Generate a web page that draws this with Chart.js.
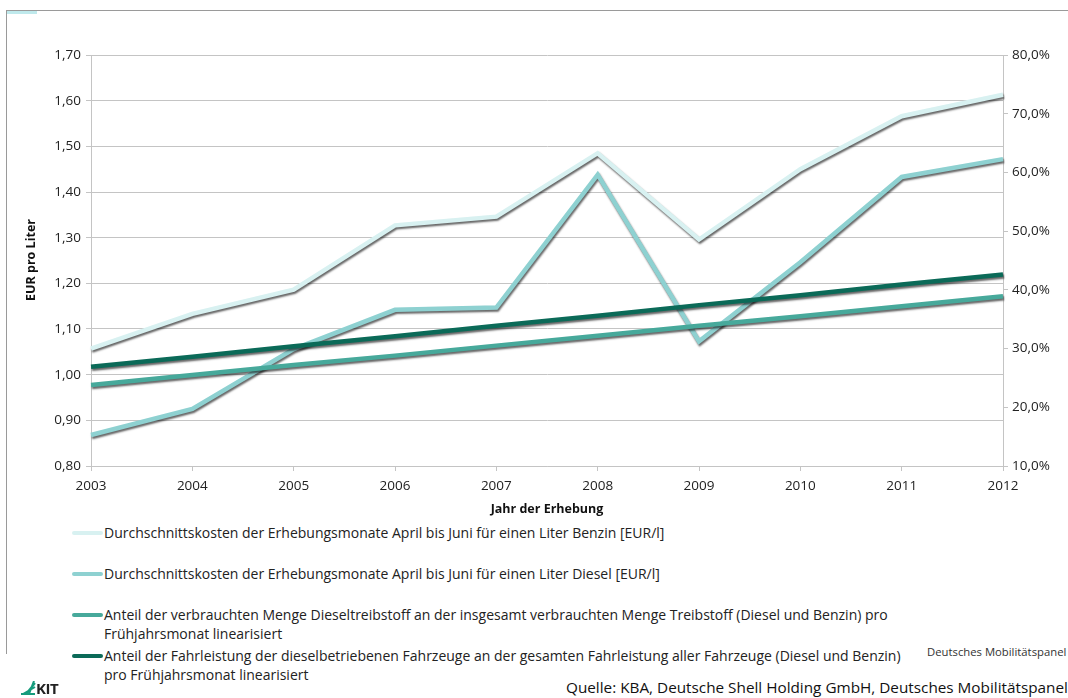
<!DOCTYPE html>
<html>
<head>
<meta charset="utf-8">
<script src="https://cdn.jsdelivr.net/npm/chart.js@4"></script>
<style>
  body { margin: 0; background: #fff; font-family: "Open Sans", sans-serif; color: #222; }
  #page { position: relative; width: 1068px; height: 698px; overflow: hidden; }
  #frame { position: absolute; left: 6px; top: 10px; width: 1070px; height: 643px; border-top: 1px solid #9a9a9a; border-left: 1px solid #9a9a9a; }
  #mark { position: absolute; left: 7px; top: 11px; width: 30px; height: 3px; background: #bfe9ec; }
  #wrap { position: absolute; left: 0; top: 0; width: 1068px; height: 520px; }
  .ytitle { position: absolute; left: 30px; top: 260px; transform: translate(-50%, -50%) rotate(-90deg); font-weight: bold; font-size: 12.5px; white-space: nowrap; color: #111; }
  .xtitle { position: absolute; left: 547px; top: 508px; transform: translate(-50%, -50%); font-weight: bold; font-size: 12.5px; white-space: nowrap; color: #111; }
  .leg { position: absolute; left: 72px; font-size: 14px; line-height: 19px; white-space: nowrap; }
  .leg .sw { position: absolute; left: 0; top: 8px; width: 31px; height: 4px; border-radius: 2px; }
  .leg .tx { position: absolute; left: 32px; top: 0; }
  .small { position: absolute; left: 927px; top: 644px; font-size: 11.3px; white-space: nowrap; color: #333; }
  .src { position: absolute; left: 566px; top: 677px; font-size: 15.3px; white-space: nowrap; color: #111; }
  .kit { position: absolute; left: 20px; top: 678px; font-size: 15px; font-weight: bold; letter-spacing: -0.5px; }
</style>
</head>
<body>
<div id="page">
  <div id="frame"></div>
  <div id="mark"></div>
  <div id="wrap"><canvas id="chart"></canvas></div>
  <div class="ytitle">EUR pro Liter</div>
  <div class="xtitle">Jahr der Erhebung</div>
  <div id="legend"></div>
  <div class="small">Deutsches Mobilitätspanel</div>
  <div class="src">Quelle: KBA, Deutsche Shell Holding GmbH, Deutsches Mobilitätspanel</div>
  <div class="kit"><svg width="16" height="14" style="vertical-align:-1px"><path d="M1 13 L15 13 M3 13 L15 6 M6 13 L15 2 M9 13 L14 0" stroke="#179c7d" stroke-width="2"/></svg>KIT</div>
</div>
<script>
const years = ['2003', '2004', '2005', '2006', '2007', '2008', '2009', '2010', '2011', '2012'];
// EUR pro Liter
const benzinPreis = [1.057, 1.133, 1.186, 1.327, 1.346, 1.485, 1.296, 1.450, 1.566, 1.613];
const dieselPreis = [0.868, 0.925, 1.056, 1.142, 1.147, 1.438, 1.073, 1.246, 1.433, 1.472];
// Anteile in %, rechte Achse
const anteilMenge = [23.8, 25.5, 27.2, 28.8, 30.5, 32.2, 33.9, 35.5, 37.2, 38.9];
const anteilFahrleistung = [26.9, 28.6, 30.4, 32.1, 33.9, 35.6, 37.4, 39.1, 40.9, 42.6];

const labels = [
  'Durchschnittskosten der Erhebungsmonate April bis Juni für einen Liter Benzin [EUR/l]',
  'Durchschnittskosten der Erhebungsmonate April bis Juni für einen Liter Diesel [EUR/l]',
  'Anteil der verbrauchten Menge Dieseltreibstoff an der insgesamt verbrauchten Menge Treibstoff (Diesel und Benzin) pro<br>Frühjahrsmonat linearisiert',
  'Anteil der Fahrleistung der dieselbetriebenen Fahrzeuge an der gesamten Fahrleistung aller Fahrzeuge (Diesel und Benzin)<br>pro Frühjahrsmonat linearisiert'
];
const colors = ['#d8f1f1', '#8ed1d1', '#47a99b', '#0b6a58'];

// legend built by hand
const legendTops = [523, 564, 605, 646];
const legend = document.getElementById('legend');
labels.forEach((t, i) => {
  const d = document.createElement('div');
  d.className = 'leg';
  d.style.top = legendTops[i] + 'px';
  d.innerHTML = `<span class="sw" style="background:${colors[i]}"></span><span class="tx">${t}</span>`;
  legend.appendChild(d);
});

const shadow = {
  id: 'shadow',
  beforeDatasetDraw(chart) {
    const c = chart.ctx;
    c.save();
    c.shadowColor = 'rgba(0,0,0,0.6)';
    c.shadowOffsetX = 1;
    c.shadowOffsetY = 2;
    c.shadowBlur = 2;
  },
  afterDatasetDraw(chart) { chart.ctx.restore(); }
};

const gridCol = '#c4c4c4';
const tickFont = { family: 'Open Sans', size: 13.5 };

new Chart(document.getElementById('chart'), {
  type: 'line',
  data: {
    labels: years,
    datasets: [
      { data: benzinPreis, borderColor: colors[0], yAxisID: 'y', order: 3 },
      { data: dieselPreis, borderColor: colors[1], yAxisID: 'y', order: 2 },
      { data: anteilMenge, borderColor: colors[2], yAxisID: 'y1', order: 1 },
      { data: anteilFahrleistung, borderColor: colors[3], yAxisID: 'y1', order: 0 }
    ].map(ds => Object.assign(ds, { borderWidth: 4.5, pointRadius: 0, tension: 0, fill: false }))
  },
  options: {
    responsive: true,
    maintainAspectRatio: false,
    animation: false,
    layout: { padding: { top: 55, left: 0, right: 0, bottom: 0 } },
    plugins: { legend: { display: false }, tooltip: { enabled: false } },
    scales: {
      x: {
        offset: false,
        grid: { drawOnChartArea: false, tickLength: 5, color: gridCol },
        border: { color: gridCol },
        ticks: { color: '#222', font: tickFont, padding: 7, maxRotation: 0 },
        afterFit(s) { s.height = 54; }
      },
      y: {
        position: 'left',
        min: 0.8, max: 1.7,
        grid: { color: gridCol, tickLength: 5 },
        border: { color: gridCol },
        ticks: { stepSize: 0.1, color: '#222', font: tickFont, padding: 5,
          callback: v => v.toFixed(2).replace('.', ',') },
        afterFit(s) { s.width = 91; }
      },
      y1: {
        position: 'right',
        min: 10, max: 80,
        grid: { drawOnChartArea: false, tickLength: 5, color: gridCol },
        border: { color: gridCol },
        ticks: { stepSize: 10, color: '#222', font: tickFont, padding: 4,
          callback: v => v.toFixed(1).replace('.', ',') + '%' },
        afterFit(s) { s.width = 65; }
      }
    }
  },
  plugins: [shadow]
});
</script>
</body>
</html>
